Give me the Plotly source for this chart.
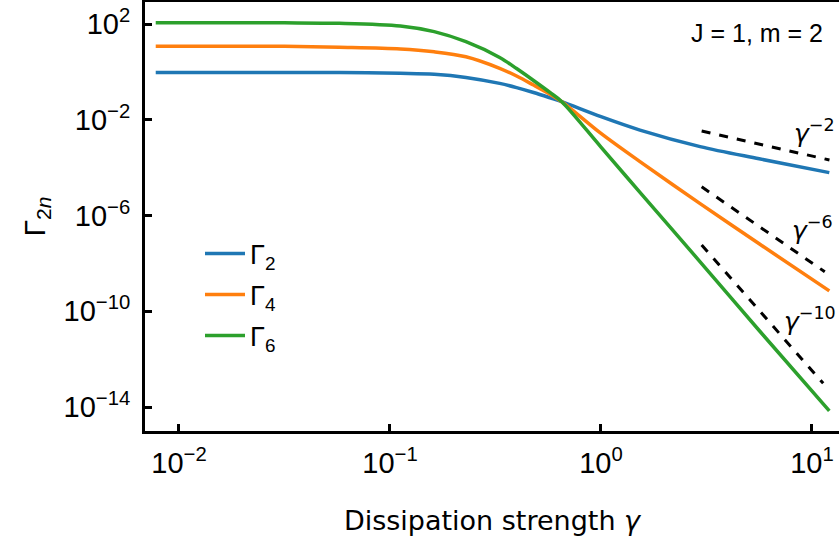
import math
import plotly.graph_objects as go

# ---- data ----
gamma = [0.00776, 0.0316, 0.0575, 0.112, 0.162, 0.229, 0.331, 0.398, 0.479,
         0.575, 0.652, 1.0, 1.53, 2.95, 5.62, 12.08]
gamma2 = [0.955, 0.955, 0.945, 0.871, 0.794, 0.589, 0.331, 0.221, 0.138,
          0.0822, 0.0569, 0.0135, 3.72e-3, 7.6e-4, 2.34e-4, 6.2e-5]
gamma4 = [11.7, 11.7, 10.7, 9.1, 6.9, 4.27, 1.41, 0.676, 0.282,
          0.115, 0.0569, 2.69e-3, 1.78e-4, 3.16e-6, 6.6e-8, 7.1e-10]
gamma6 = [112, 112, 107, 83, 48, 18.2, 4.0, 1.38, 0.437,
          0.135, 0.0569, 7.2e-4, 9.3e-6, 1.17e-8, 1.58e-11, 6.9e-15]

series_names = ["Γ<sub>2</sub>", "Γ<sub>4</sub>", "Γ<sub>6</sub>"]
series_colors = ["#1f77b4", "#ff7f0e", "#2ca02c"]

# power-law guide lines (gamma start/end, value start/end)
guide_x = [[3.0, 12.1], [3.0, 11.5], [3.0, 11.3]]
guide_y = [[3.39e-3, 2.09e-4], [1.58e-5, 4.47e-9], [5.9e-8, 9.8e-14]]
guide_labels = ["<i>γ</i><sup>−2</sup>", "<i>γ</i><sup>−6</sup>", "<i>γ</i><sup>−10</sup>"]
guide_label_x = [8.04, 7.87, 7.21]
guide_label_y = [3.1e-3, 3.0e-7, 4.4e-11]

x_tickvals = [0.01, 0.1, 1, 10]
x_ticktext = ["10<sup>−2</sup>", "10<sup>−1</sup>", "10<sup>0</sup>", "10<sup>1</sup>"]
y_tickvals = [1e2, 1e-2, 1e-6, 1e-10, 1e-14]
y_ticktext = ["10<sup>2</sup>", "10<sup>−2</sup>", "10<sup>−6</sup>", "10<sup>−10</sup>", "10<sup>−14</sup>"]

fig = go.Figure()
for name, ys, col in zip(series_names, [gamma2, gamma4, gamma6], series_colors):
    fig.add_trace(go.Scatter(x=gamma, y=ys, mode="lines", name=name,
                             line=dict(color=col, width=3.5, shape="spline", smoothing=0.9),
                             legendgroup=name))

for gx, gy in zip(guide_x, guide_y):
    fig.add_trace(go.Scatter(x=gx, y=gy, mode="lines", showlegend=False,
                             line=dict(color="black", width=3, dash="dash")))

for lbl, lx, ly in zip(guide_labels, guide_label_x, guide_label_y):
    fig.add_annotation(x=math.log10(lx), y=math.log10(ly),
                       xref="x", yref="y", text=lbl, showarrow=False,
                       xanchor="left", yanchor="middle",
                       font=dict(family="DejaVu Sans", size=25, color="black"))

fig.add_annotation(x=(825 - 145) / 694, y=1 - (33 - 2) / 429, xref="paper", yref="paper",
                   text="J = 1, m = 2", showarrow=False,
                   xanchor="right", yanchor="middle",
                   font=dict(family="Liberation Sans", size=25, color="black"))

fig.update_layout(
    width=839, height=544,
    margin=dict(l=145, r=0, t=2, b=113, pad=0),
    paper_bgcolor="white", plot_bgcolor="white",
    showlegend=True,
    legend=dict(x=(200 - 145) / 694, y=0.47, xanchor="left", yanchor="top",
                font=dict(family="Liberation Sans", size=27, color="black"),
                bgcolor="rgba(0,0,0,0)", tracegroupgap=3, itemwidth=40),
    xaxis=dict(type="log", range=[-2.161, 1.128],
               tickvals=x_tickvals, ticktext=x_ticktext,
               ticks="inside", ticklen=7, tickwidth=3, tickcolor="black",
               showline=True, linewidth=3, linecolor="black", mirror=True,
               showgrid=False, zeroline=False, ticklabelstandoff=4,
               tickfont=dict(family="Liberation Sans", size=29, color="black"),
               title=dict(text="Dissipation strength <i>γ</i>", standoff=34,
                          font=dict(family="DejaVu Sans", size=27, color="black"))),
    yaxis=dict(type="log", range=[-15.0, 2.92],
               tickvals=y_tickvals, ticktext=y_ticktext,
               ticks="inside", ticklen=7, tickwidth=3, tickcolor="black",
               showline=True, linewidth=3, linecolor="black", mirror=False,
               showgrid=False, zeroline=False, ticklabelstandoff=6,
               tickfont=dict(family="Liberation Sans", size=29, color="black"),
               title=dict(text="Γ<sub>2<i>n</i></sub>", standoff=10,
                          font=dict(family="Liberation Sans", size=30, color="black"))),
)

fig.write_html("out.html", config={"displayModeBar": False},
               post_script="document.body.style.margin='0';")
